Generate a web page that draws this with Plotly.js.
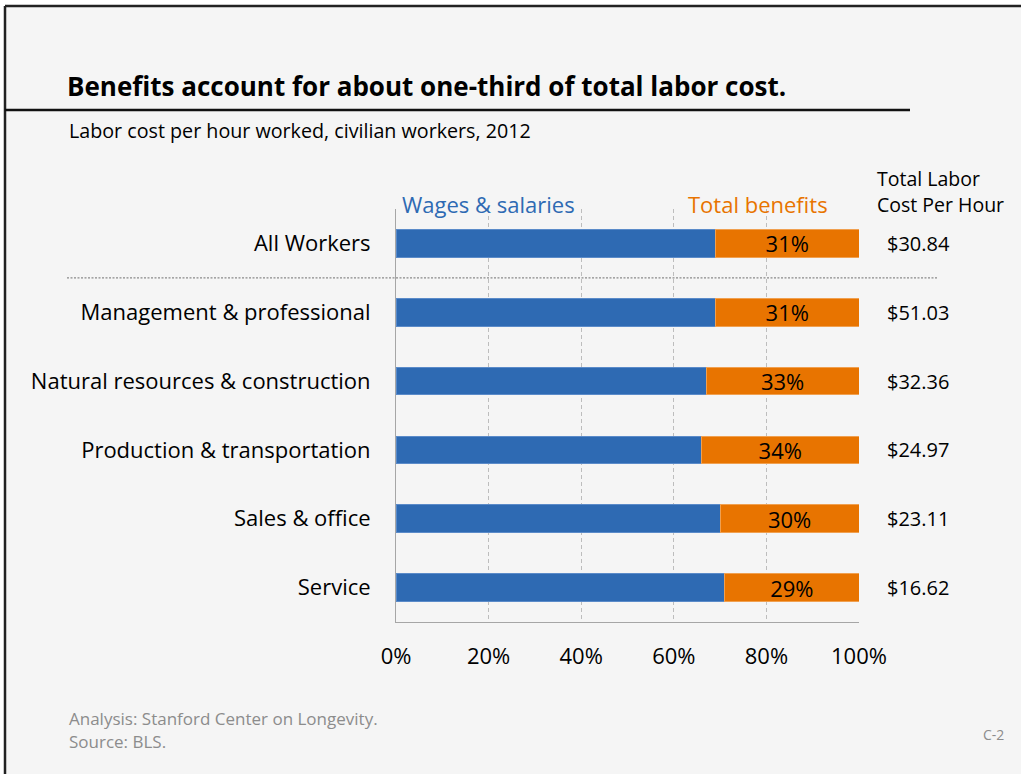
<!DOCTYPE html>
<html>
<head>
<meta charset="utf-8">
<script src="https://cdn.plot.ly/plotly-3.0.1.min.js"></script>
<style>
html,body{margin:0;padding:0;background:#ffffff;}
#chart{width:1021px;height:774px;}
</style>
</head>
<body>
<div id="chart"></div>
<script>
// ---- data ----
var categories = ["All Workers", "Management & professional", "Natural resources & construction",
                  "Production & transportation", "Sales & office", "Service"];
var wagesShare = [69, 69, 67, 66, 70, 71];
var benefitsShare = [31, 31, 33, 34, 30, 29];
var totalCost = ["$30.84", "$51.03", "$32.36", "$24.97", "$23.11", "$16.62"];
var tickVals = [0, 20, 40, 60, 80, 100];
var tickText = ["0%", "20%", "40%", "60%", "80%", "100%"];

// ---- geometry helpers (pixel -> paper) ----
var W = 1021, H = 774;
var L = 396, R = 859, T = 209, B = 622;
function px(x){ return (x - L) / (R - L); }
function py(y){ return (B - y) / (B - T); }

var FONT = "'Open Sans', Lato, sans-serif";
var BLUE = "#2e6ab3", ORANGE = "#e87400";

var traces = [
  {
    type: "bar", orientation: "h", y: categories, x: wagesShare, name: "Wages & salaries",
    marker: {color: BLUE, line: {color: "#5b8bc9", width: 1}},
    width: 0.4, hoverinfo: "skip", textposition: "none"
  },
  {
    type: "bar", orientation: "h", y: categories, x: benefitsShare, name: "Total benefits",
    marker: {color: ORANGE, line: {color: "#f0a050", width: 1}},
    width: 0.4, hoverinfo: "skip",
    text: benefitsShare.map(function(v){ return v + "%"; }),
    textposition: "inside", insidetextanchor: "middle", constraintext: "none",
    textfont: {family: FONT, size: 22, color: "#000000"}, cliponaxis: false
  }
];

var annotations = [
  {xref:"paper", yref:"paper", x: px(400), y: py(204), xanchor:"left", yanchor:"middle",
   text:"Wages &amp; salaries", showarrow:false, font:{family:FONT, size:22, color:BLUE}},
  {xref:"paper", yref:"paper", x: px(830), y: py(204), xanchor:"right", yanchor:"middle",
   text:"Total benefits", showarrow:false, font:{family:FONT, size:22, color:ORANGE}},
  {xref:"paper", yref:"paper", x: px(875), y: py(178), xanchor:"left", yanchor:"middle",
   text:"Total Labor", showarrow:false, font:{family:FONT, size:19.5, color:"#000"}},
  {xref:"paper", yref:"paper", x: px(875), y: py(205), xanchor:"left", yanchor:"middle",
   text:"Cost Per Hour", showarrow:false, font:{family:FONT, size:19.5, color:"#000"}},
  {xref:"paper", yref:"paper", x: px(67), y: py(130), xanchor:"left", yanchor:"middle",
   text:"Labor cost per hour worked, civilian workers, 2012", showarrow:false,
   font:{family:FONT, size:19.7, color:"#000"}},
  {xref:"paper", yref:"paper", x: px(67), y: py(718), xanchor:"left", yanchor:"middle",
   text:"Analysis: Stanford Center on Longevity.", showarrow:false,
   font:{family:FONT, size:17, color:"#8c8c8c"}},
  {xref:"paper", yref:"paper", x: px(67), y: py(741), xanchor:"left", yanchor:"middle",
   text:"Source: BLS.", showarrow:false, font:{family:FONT, size:17, color:"#8c8c8c"}},
  {xref:"paper", yref:"paper", x: px(1006), y: py(734), xanchor:"right", yanchor:"middle",
   text:"C-2", showarrow:false, font:{family:FONT, size:14, color:"#8c8c8c"}}
];
categories.forEach(function(c, i){
  annotations.push({xref:"paper", yref:"y", x: px(885), y: c, xanchor:"left", yanchor:"middle",
    text: totalCost[i], showarrow:false, font:{family:FONT, size:20, color:"#000"}});
});

var shapes = [
  // slide background inside frame
  {type:"rect", xref:"paper", yref:"paper", x0:px(5), x1:px(W+5), y0:py(6), y1:py(H+5),
   fillcolor:"#f5f5f5", line:{width:0}, layer:"below"},
  // frame lines
  {type:"line", xref:"paper", yref:"paper", x0:px(5), x1:px(W+5), y0:py(6), y1:py(6),
   line:{color:"#222", width:2.5}},
  {type:"line", xref:"paper", yref:"paper", x0:px(5), x1:px(5), y0:py(6), y1:py(H+5),
   line:{color:"#222", width:2.5}},
  // title underline
  {type:"line", xref:"paper", yref:"paper", x0:px(5), x1:px(910), y0:py(110), y1:py(110),
   line:{color:"#111", width:2.5}},
  // separator under All Workers
  {type:"line", xref:"paper", yref:"y", x0:px(67), x1:px(937), y0:0.5, y1:0.5,
   line:{color:"#8a8a8a", width:1.3, dash:"2px,1.5px"}}
];

var layout = {
  width: W, height: H,
  margin: {l: L, r: W - R, t: T, b: H - B, pad: 0},
  paper_bgcolor: "#ffffff", plot_bgcolor: "rgba(0,0,0,0)",
  barmode: "stack", showlegend: false,
  title: {text: "<b>Benefits account for about one-third of total labor cost.</b>",
          xref: "container", yref: "container", x: 67 / W, xanchor: "left",
          y: 1 - 87 / H, yanchor: "middle",
          font: {family: FONT, size: 26, color: "#000"}},
  xaxis: {range: [0, 100], tickvals: tickVals, ticktext: tickText, showgrid: true,
          gridcolor: "#bdbdbd", griddash: "4px,3px", gridwidth: 1, zeroline: false,
          showline: true, linecolor: "#a6a6a6", linewidth: 1, ticks: "",
          ticklabelstandoff: 15, tickfont: {family: FONT, size: 22, color: "#000"},
          fixedrange: true},
  yaxis: {type: "category", range: [5.5, -0.5], showgrid: false, zeroline: false,
          showline: true, linecolor: "#a6a6a6", linewidth: 1, ticks: "",
          ticklabelstandoff: 20, tickfont: {family: FONT, size: 22, color: "#000"},
          fixedrange: true},
  annotations: annotations, shapes: shapes,
  font: {family: FONT}
};

Plotly.newPlot("chart", traces, layout, {displayModeBar: false, staticPlot: true});
</script>
</body>
</html>
